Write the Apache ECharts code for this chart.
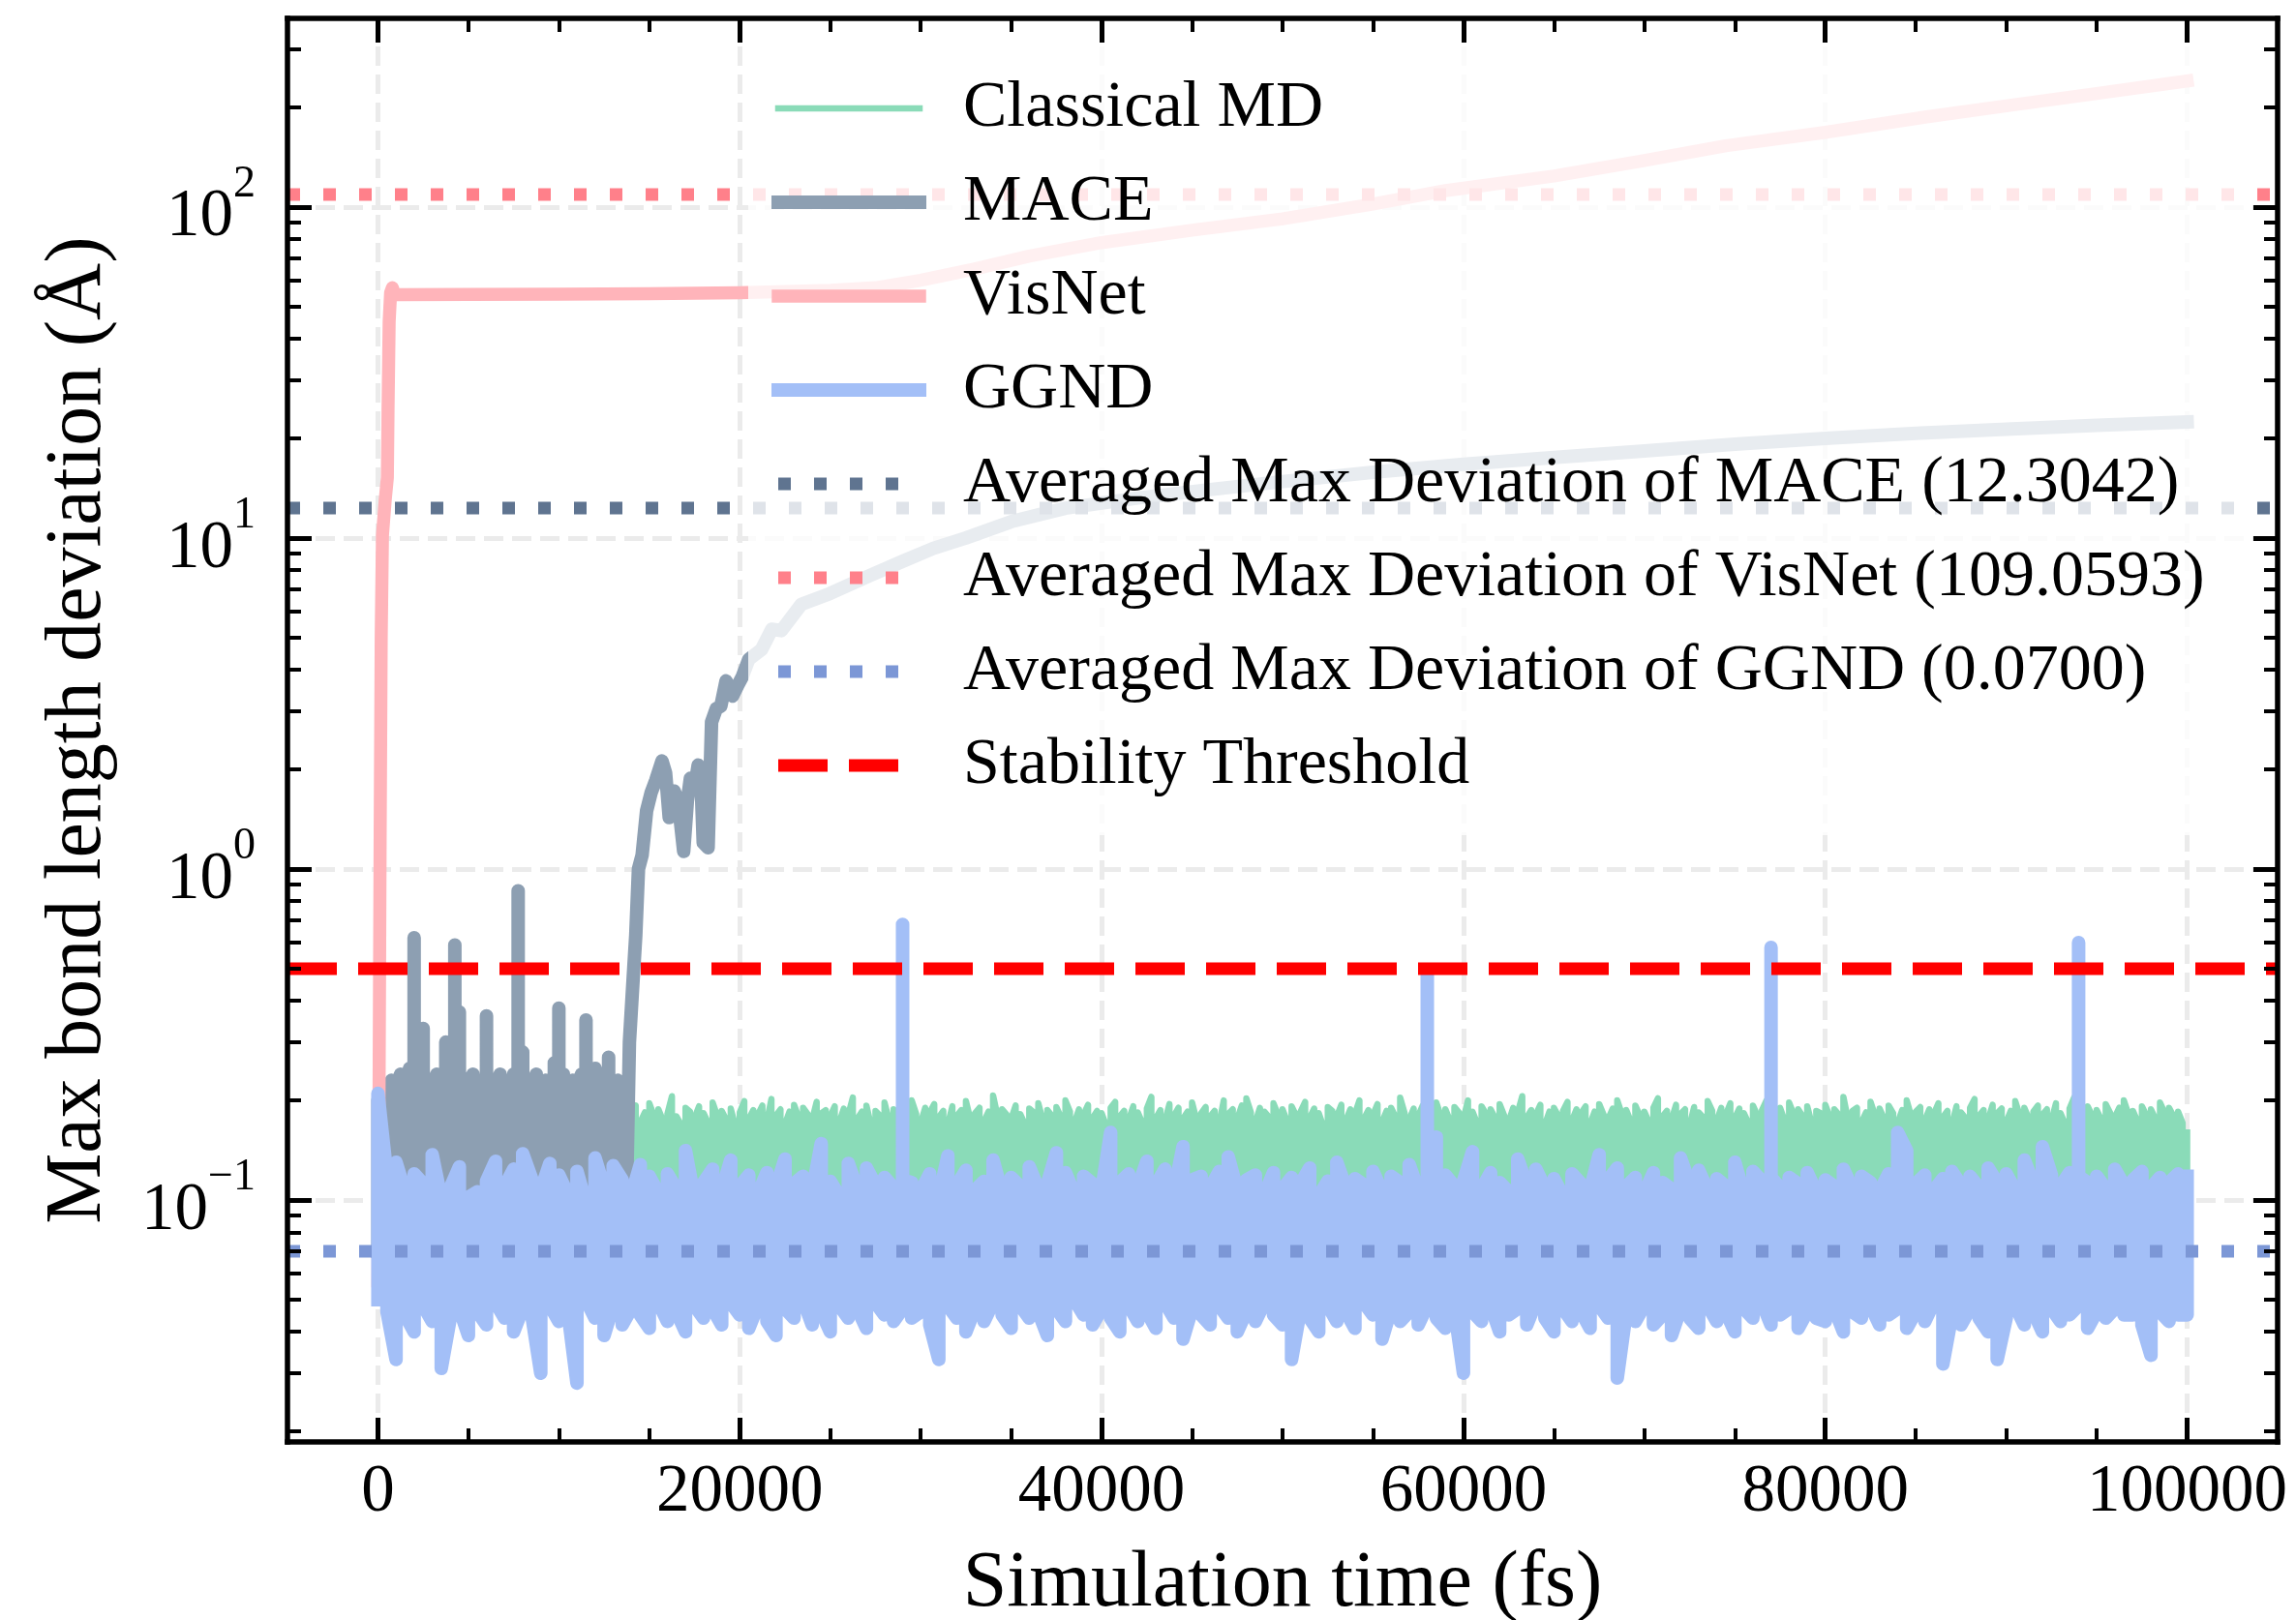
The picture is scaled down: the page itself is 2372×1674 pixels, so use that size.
<!DOCTYPE html>
<html>
<head>
<meta charset="utf-8">
<title>Max bond length deviation</title>
<script src="https://cdn.jsdelivr.net/npm/echarts@6.0.0/dist/echarts.min.js"></script>
<style>
  html, body { margin: 0; padding: 0; background: #fff; }
  #chart { width: 2372px; height: 1674px; }
</style>
</head>
<body>
<div id="chart"></div>
<script>
const FONT = 'Liberation Serif, Times New Roman, serif';

const xMin = -5000, xMax = 105000;
const yMin = 0.0186, yMax = 371;
const xMajorTicks = [0, 20000, 40000, 60000, 80000, 100000];
const xMinorTicks = [5000, 10000, 15000, 25000, 30000, 35000, 45000, 50000, 55000,
  65000, 70000, 75000, 85000, 90000, 95000];
const yMajorTicks = [0.1, 1, 10, 100];
const yMinorTicks = [0.02, 0.03, 0.04, 0.05, 0.06, 0.07, 0.08, 0.09,
  0.2, 0.3, 0.4, 0.5, 0.6, 0.7, 0.8, 0.9,
  2, 3, 4, 5, 6, 7, 8, 9,
  20, 30, 40, 50, 60, 70, 80, 90,
  200, 300];

// the noisy traces are kept as per-bin high / low envelopes plus isolated spikes
// Classical MD, bins of 250 fs
const mdStep = 250;
const mdHigh = [
  0.16,0.19,0.18,0.2,0.17,0.185,0.175,0.19,0.18,0.2,0.172,0.188,0.181,0.195,0.168,0.184,0.19,0.176,0.199,0.183,
  0.178,0.205,0.174,0.186,0.18,0.192,0.171,0.187,0.182,0.196,0.185,0.177,0.19,0.169,0.184,0.203,0.179,0.188,0.175,0.192,
  0.18,0.186,0.173,0.198,0.182,0.167,0.189,0.181,0.194,0.176,0.183,0.191,0.17,0.187,0.2,0.178,0.185,0.193,0.172,0.184,
  0.196,0.18,0.188,0.174,0.182,0.206,0.179,0.169,0.19,0.185,0.177,0.192,0.183,0.171,0.197,0.18,0.186,0.175,0.189,0.168,
  0.184,0.199,0.176,0.187,0.181,0.193,0.173,0.202,0.18,0.188,0.17,0.185,0.194,0.178,0.19,0.182,0.175,0.198,0.183,0.187,
  0.179,0.192,0.172,0.189,0.181,0.204,0.176,0.185,0.193,0.168,0.186,0.18,0.197,0.174,0.188,0.183,0.191,0.177,0.2,0.182,
  0.171,0.19,0.184,0.195,0.178,0.186,0.169,0.192,0.18,0.187,0.199,0.175,0.183,0.19,0.173,0.185,0.207,0.179,0.188,0.181,
  0.176,0.193,0.182,0.17,0.189,0.184,0.196,0.174,0.187,0.18,0.191,0.178,0.2,0.185,0.172,0.188,0.181,0.194,0.177,0.186,
  0.183,0.168,0.19,0.198,0.179,0.186,0.175,0.192,0.184,0.171,0.189,0.205,0.177,0.187,0.173,0.195,0.18,0.19,0.176,0.185,
  0.197,0.174,0.183,0.191,0.179,0.186,0.17,0.2,0.182,0.188,0.176,0.193,0.203,0.184,0.172,0.19,0.185,0.178,0.196,0.181,
  0.188,0.173,0.192,0.18,0.185,0.198,0.177,0.189,0.183,0.167,0.191,0.186,0.179,0.194,0.174,0.188,0.182,0.2,0.176,0.187,
  0.181,0.195,0.172,0.186,0.19,0.178,0.204,0.183,0.175,0.189,0.18,0.193,0.17,0.186,0.197,0.179,0.188,0.174,0.191,0.184,
  0.176,0.2,0.185,0.171,0.192,0.182,0.188,0.177,0.195,0.18,0.173,0.19,0.184,0.206,0.178,0.187,0.181,0.194,0.169,0.185,
  0.19,0.179,0.186,0.198,0.174,0.188,0.183,0.192,0.17,0.185,0.195,0.181,0.176,0.189,0.2,0.182,0.187,0.173,0.193,0.18,
  0.185,0.172,0.19,0.203,0.179,0.186,0.175,0.194,0.182,0.188,0.168,0.191,0.184,0.178,0.199,0.186,0.174,0.19,0.181,0.196,
  0.177,0.189,0.183,0.171,0.193,0.18,0.187,0.2,0.176,0.185,0.19,0.174,0.197,0.182,0.188,0.179,0.192,0.17,0.186,0.183,
  0.194,0.178,0.188,0.181,0.205,0.175,0.186,0.19,0.172,0.184,0.198,0.18,0.189,0.176,0.193,0.183,0.171,0.187,0.2,0.179,
  0.185,0.191,0.174,0.188,0.182,0.196,0.178,0.186,0.169,0.192,0.184,0.177,0.19,0.202,0.18,0.187,0.175,0.194,0.183,0.189,
  0.172,0.186,0.199,0.18,0.19,0.176,0.185,0.193,0.181,0.188,0.174,0.196,0.183,0.17,0.189,0.204,0.178,0.186,0.192,0.18,
  0.187,0.175,0.195,0.183,0.178,0.19,0.2,0.182,0.186,0.173,0.192,0.18,0.188,0.176,0.197,0.184,0.19,0.179,0.185,0.171,
  0.16
];
const mdLow = [
  0.1,0.11,0.098,0.12,0.105,0.1,0.115,0.096,0.108,0.102,0.118,0.099,0.11,0.104,0.097,0.113,0.101,0.107,0.095,0.112,
  0.103,0.098,0.116,0.106,0.1,0.109,0.097,0.114,0.102,0.108,0.095,0.111,0.104,0.099,0.117,0.101,0.106,0.096,0.11,0.103,
  0.107,0.099,0.112,0.101,0.118,0.097,0.105,0.109,0.1,0.114,0.098,0.106,0.102,0.111,0.096,0.108,0.103,0.115,0.1,0.105,
  0.098,0.113,0.101,0.107,0.096,0.11,0.104,0.099,0.116,0.102,0.108,0.097,0.112,0.1,0.106,0.095,0.109,0.103,0.114,0.099,
  0.105,0.1,0.111,0.097,0.108,0.102,0.117,0.099,0.104,0.11,0.096,0.107,0.101,0.113,0.098,0.106,0.103,0.109,0.1,0.115,
  0.097,0.108,0.102,0.112,0.099,0.105,0.096,0.11,0.103,0.107,0.1,0.114,0.098,0.106,0.101,0.109,0.095,0.104,0.111,0.1,
  0.106,0.099,0.113,0.102,0.108,0.097,0.104,0.11,0.1,0.115,0.098,0.107,0.103,0.096,0.111,0.101,0.106,0.099,0.109,0.104,
  0.1,0.112,0.097,0.105,0.101,0.109,0.098,0.114,0.103,0.099,0.107,0.102,0.096,0.111,0.104,0.1,0.108,0.097,0.113,0.102,
  0.108,0.098,0.104,0.11,0.099,0.106,0.102,0.116,0.1,0.105,0.097,0.109,0.103,0.099,0.112,0.101,0.107,0.096,0.11,0.104,
  0.099,0.107,0.101,0.113,0.097,0.104,0.109,0.1,0.106,0.098,0.111,0.103,0.1,0.108,0.095,0.105,0.102,0.114,0.099,0.106,
  0.103,0.096,0.11,0.101,0.107,0.099,0.112,0.104,0.098,0.109,0.102,0.106,0.097,0.113,0.1,0.105,0.108,0.098,0.104,0.11,
  0.1,0.108,0.097,0.106,0.102,0.115,0.099,0.104,0.109,0.096,0.107,0.101,0.111,0.098,0.105,0.103,0.097,0.11,0.1,0.106,
  0.104,0.099,0.112,0.102,0.097,0.108,0.101,0.106,0.098,0.114,0.103,0.1,0.107,0.096,0.11,0.104,0.099,0.105,0.102,0.109,
  0.098,0.106,0.101,0.111,0.099,0.104,0.108,0.097,0.113,0.102,0.1,0.107,0.103,0.096,0.109,0.101,0.105,0.099,0.112,0.103,
  0.107,0.1,0.104,0.098,0.11,0.102,0.106,0.099,0.105,0.113,0.097,0.108,0.101,0.104,0.096,0.111,0.103,0.1,0.107,0.099,
  0.102,0.109,0.097,0.105,0.1,0.112,0.098,0.106,0.103,0.099,0.11,0.101,0.107,0.096,0.104,0.108,0.1,0.113,0.098,0.105,
  0.101,0.106,0.099,0.11,0.103,0.097,0.108,0.102,0.114,0.1,0.105,0.098,0.109,0.104,0.096,0.107,0.101,0.111,0.099,0.106,
  0.104,0.098,0.107,0.101,0.112,0.099,0.105,0.1,0.109,0.097,0.106,0.103,0.099,0.11,0.102,0.096,0.108,0.101,0.113,0.1,
  0.106,0.1,0.103,0.109,0.097,0.105,0.101,0.111,0.099,0.104,0.108,0.096,0.107,0.102,0.1,0.112,0.098,0.105,0.103,0.109,
  0.099,0.107,0.102,0.097,0.11,0.101,0.105,0.099,0.113,0.103,0.1,0.106,0.098,0.109,0.104,0.1,0.107,0.097,0.111,0.102,
  0.1
];

// MACE: noisy start in bins of 250 fs, then the blow-up
const maceStep = 250;
const maceHigh = [
  0.2,0.22,0.21,0.23,0.22,0.24,0.22,0.25,0.23,0.24,0.22,0.23,0.22,0.24,0.22,0.23,0.23,0.22,0.24,0.23,
  0.22,0.24,0.23,0.22,0.23,0.23,0.22,0.24,0.23,0.22,0.24,0.23,0.22,0.23,0.22,0.24,0.22,0.23,0.22,0.23,
  0.22,0.24,0.22,0.23,0.22,0.24,0.23,0.23,0.25,0.22,0.23,0.22,0.22,0.23,0.22,0.21
];
const maceLow = [
  0.07,0.1,0.11,0.098,0.105,0.1,0.112,0.099,0.104,0.1,0.108,0.097,0.11,0.102,0.099,0.106,0.1,0.113,0.098,0.104,
  0.1,0.109,0.097,0.103,0.1,0.111,0.099,0.105,0.1,0.108,0.098,0.104,0.1,0.11,0.097,0.103,0.1,0.107,0.099,0.105,
  0.1,0.112,0.098,0.104,0.1,0.108,0.097,0.103,0.1,0.109,0.099,0.105,0.1,0.106,0.1,0.11
];
const maceSpikeTimes = [2000, 2500, 3750, 4250, 4500, 6000, 7750, 8000, 9750, 10000, 11500, 12750];
const maceSpikeValues = [0.62, 0.33, 0.3, 0.59, 0.37, 0.36, 0.86, 0.28, 0.26, 0.38, 0.35, 0.27];
const maceRiseTimes = [13900, 14100, 14250, 14400, 14600, 14850, 15100, 15350, 15700, 15900,
  16100, 16370, 16600, 16900, 17100, 17270, 17500, 17700, 17850, 17980,
  18250, 18440, 18700, 18950, 19240, 19600, 19900, 20130, 20500, 21200,
  21770, 22300, 23400, 25000, 27200, 29000, 30700, 32500, 35000, 38000,
  42000, 46000, 50000, 55000, 60000, 65000, 70000, 75000, 80000, 85000,
  90000, 95000, 100000];
const maceRiseValues = [0.3, 0.46, 0.63, 1.0, 1.1, 1.5, 1.7, 1.85, 2.12, 1.95,
  1.43, 1.72, 1.6, 1.13, 1.6, 1.88, 1.75, 2.06, 1.9, 1.2,
  1.16, 2.78, 3.05, 3.1, 3.7, 3.33, 3.6, 3.8, 4.3, 4.6,
  5.3, 5.25, 6.3, 6.8, 7.7, 8.5, 9.3, 10.0, 11.2, 12.3,
  13.2, 14.0, 14.8, 15.8, 16.7, 17.5, 18.3, 19.2, 20.0, 20.7,
  21.3, 21.9, 22.4];

const visnetTimes = [0, 60, 120, 180, 250, 400, 520, 560, 620, 700,
  800, 900, 1100, 5000, 10000, 15000, 20000, 25000, 27500, 30000,
  33000, 36000, 40000, 45000, 50000, 55000, 59000, 65000, 70000, 74500,
  80000, 85600, 90000, 95000, 100000];
const visnetValues = [0.057, 0.2, 1.2, 5, 10.2, 13, 15.2, 25, 45, 55,
  57, 54.5, 54.3, 54.4, 54.5, 54.7, 55, 56, 57, 60,
  65, 71, 78, 85, 92, 102, 112, 124, 138, 153,
  168, 187, 202, 220, 240];

// GGND, bins of 500 fs
const ggndStep = 500;
const ggndHigh = [
  0.21,0.118,0.13,0.106,0.12,0.112,0.137,0.101,0.109,0.126,0.102,0.106,0.114,0.131,0.11,0.124,0.138,0.116,0.107,0.129,
  0.119,0.104,0.122,0.098,0.134,0.109,0.127,0.115,0.103,0.128,0.118,0.105,0.12,0.108,0.141,0.101,0.113,0.124,0.107,0.132,
  0.11,0.119,0.104,0.121,0.109,0.133,0.112,0.118,0.106,0.148,0.114,0.103,0.129,0.108,0.125,0.111,0.117,0.109,0.115,0.113,
  0.106,0.12,0.102,0.136,0.111,0.123,0.107,0.114,0.132,0.105,0.117,0.11,0.126,0.108,0.112,0.139,0.121,0.104,0.118,0.112,
  0.107,0.16,0.113,0.12,0.109,0.131,0.111,0.124,0.106,0.145,0.115,0.118,0.109,0.122,0.135,0.107,0.115,0.119,0.104,0.121,
  0.108,0.117,0.112,0.125,0.103,0.114,0.13,0.109,0.116,0.111,0.122,0.106,0.118,0.113,0.128,0.107,0.116,0.155,0.119,0.11,
  0.114,0.14,0.108,0.121,0.113,0.106,0.133,0.111,0.124,0.109,0.116,0.103,0.12,0.112,0.107,0.137,0.115,0.125,0.11,0.117,
  0.105,0.121,0.113,0.108,0.134,0.112,0.123,0.107,0.116,0.11,0.13,0.104,0.122,0.114,0.117,0.109,0.117,0.112,0.121,0.106,
  0.115,0.11,0.124,0.108,0.118,0.113,0.106,0.12,0.16,0.141,0.112,0.119,0.107,0.116,0.122,0.111,0.118,0.109,0.125,0.113,
  0.12,0.107,0.132,0.112,0.145,0.119,0.11,0.121,0.118,0.113,0.118,0.108,0.124,0.111,0.115,0.122,0.109,0.117,0.113,0.12,
  0.118
];
const ggndLow = [
  0.05,0.046,0.033,0.045,0.04,0.048,0.043,0.031,0.044,0.047,0.039,0.046,0.042,0.049,0.044,0.04,0.047,0.045,0.03,0.048,
  0.043,0.046,0.028,0.05,0.044,0.039,0.048,0.042,0.047,0.045,0.041,0.049,0.043,0.046,0.04,0.048,0.044,0.047,0.042,0.049,
  0.045,0.041,0.048,0.043,0.039,0.047,0.044,0.05,0.042,0.046,0.04,0.048,0.044,0.047,0.041,0.049,0.045,0.043,0.047,0.044,
  0.046,0.042,0.033,0.048,0.044,0.04,0.047,0.043,0.049,0.045,0.041,0.048,0.044,0.046,0.039,0.047,0.043,0.05,0.045,0.042,
  0.047,0.044,0.04,0.048,0.043,0.046,0.041,0.049,0.044,0.038,0.047,0.045,0.042,0.048,0.044,0.04,0.046,0.043,0.049,0.045,
  0.042,0.033,0.047,0.044,0.04,0.048,0.043,0.046,0.041,0.049,0.045,0.038,0.047,0.043,0.046,0.042,0.048,0.044,0.041,0.047,
  0.03,0.046,0.043,0.048,0.04,0.045,0.047,0.042,0.049,0.044,0.04,0.047,0.043,0.046,0.041,0.048,0.044,0.029,0.046,0.043,
  0.048,0.042,0.045,0.039,0.047,0.044,0.041,0.048,0.043,0.046,0.04,0.047,0.044,0.049,0.042,0.045,0.047,0.041,0.046,0.044,
  0.043,0.047,0.04,0.046,0.044,0.048,0.042,0.045,0.047,0.041,0.046,0.043,0.049,0.032,0.045,0.042,0.047,0.044,0.04,0.033,
  0.044,0.048,0.042,0.046,0.04,0.047,0.043,0.045,0.048,0.041,0.046,0.044,0.047,0.045,0.045,0.042,0.034,0.046,0.043,0.045,
  0.045
];
const ggndSpikeTimes = [29000, 58000, 77000, 94000];
const ggndSpikeValues = [0.68, 0.48, 0.58, 0.6];

const avgMace = 12.3042;
const avgVisnet = 109.0593;
const avgGgnd = 0.07;
const stabilityThreshold = 0.5;

const DOTTED = [13, 24];
const DASHED = [51, 22];
const GRID_COLOR = '#ebebeb';

// walk each bin down and up so the thick stroke fills the band;
// a spike is drawn as a vertical excursion inside its bin
function envelopePath(step, high, low, spikeTimes, spikeValues) {
  const pts = [];
  high.forEach((h, i) => {
    const t = i * step;
    const k = spikeTimes.indexOf(t);
    const first = i % 2 === 0 ? [t, low[i]] : [t, h];
    const last = i % 2 === 0 ? [t, h] : [t, low[i]];
    pts.push(first);
    if (k >= 0) pts.push([t, spikeValues[k]]);
    pts.push(last);
  });
  return pts;
}

const mdData = envelopePath(mdStep, mdHigh, mdLow, [], []);
const maceData = envelopePath(maceStep, maceHigh, maceLow, maceSpikeTimes, maceSpikeValues)
  .concat(maceRiseTimes.map((t, i) => [t, maceRiseValues[i]]));
const visnetData = visnetTimes.map((t, i) => [t, visnetValues[i]]);
const ggndData = envelopePath(ggndStep, ggndHigh, ggndLow, ggndSpikeTimes, ggndSpikeValues);
const hline = v => [[xMin, v], [xMax, v]];

const seriesDefs = [
  { name: 'Classical MD', data: mdData, color: '#8adbb8', width: 6.5, type: 'solid' },
  { name: 'MACE', data: maceData, color: '#8d9fb2', width: 14, type: 'solid' },
  { name: 'VisNet', data: visnetData, color: '#ffb4ba', width: 13.5, type: 'solid' },
  { name: 'GGND', data: ggndData, color: '#a3bff7', width: 14, type: 'solid' },
  { name: 'Averaged Max Deviation of MACE (' + avgMace.toFixed(4) + ')', data: hline(avgMace), color: '#5f7490', width: 13, type: DOTTED },
  { name: 'Averaged Max Deviation of VisNet (' + avgVisnet.toFixed(4) + ')', data: hline(avgVisnet), color: '#ff808a', width: 13, type: DOTTED },
  { name: 'Averaged Max Deviation of GGND (' + avgGgnd.toFixed(4) + ')', data: hline(avgGgnd), color: '#7c97d6', width: 13, type: DOTTED },
  { name: 'Stability Threshold', data: hline(stabilityThreshold), color: '#ff0000', width: 13, type: DASHED }
];

const yLo = Math.log10(yMin), yHi = Math.log10(yMax);
const yMajorLog = yMajorTicks.map(Math.log10);
const yMinorLog = yMinorTicks.map(Math.log10);

// axes that only draw the black frame and the inward ticks
function frameAxis(position, ticks, length, width, withLine, range) {
  return {
    type: 'value',
    position,
    min: range[0],
    max: range[1],
    z: 10,
    axisLine: { show: withLine, onZero: false, lineStyle: { color: '#000', width: 5.5, cap: 'square' } },
    axisTick: { show: true, inside: true, length, customValues: ticks, lineStyle: { color: '#000', width } },
    axisLabel: { show: false },
    splitLine: { show: false }
  };
}

const xRange = [xMin, xMax];
const yRange = [yLo, yHi];

const option = {
  animation: false,
  backgroundColor: '#fff',
  textStyle: { fontFamily: FONT },
  grid: { left: 297, right: 19, top: 19, bottom: 184, containLabel: false, outerBoundsMode: 'none' },
  legend: {
    orient: 'vertical',
    left: 773,
    top: 40,
    selectedMode: false,
    backgroundColor: 'rgba(255,255,255,0.8)',
    padding: [38, 49, 38, 24],
    itemWidth: 146,
    itemHeight: 14,
    itemGap: 29,
    itemStyle: { opacity: 0 },
    textStyle: { fontSize: 68, lineHeight: 68, color: '#000', fontFamily: FONT, padding: [0, 0, 0, 40] },
    data: seriesDefs.map(s => ({
      name: s.name,
      itemStyle: { opacity: 0 },
      lineStyle: { width: s.width, type: s.type, color: s.color }
    }))
  },
  xAxis: [
    {
      type: 'value', position: 'bottom', min: xMin, max: xMax, z: 0,
      axisLine: { show: false, onZero: false },
      axisTick: { show: false, customValues: xMajorTicks },
      axisLabel: {
        customValues: xMajorTicks, margin: 18, fontSize: 69, color: '#000', fontFamily: FONT,
        formatter: v => String(v)
      },
      splitLine: { show: true, lineStyle: { color: GRID_COLOR, width: 5, type: [20, 9] } },
      name: 'Simulation time (fs)',
      nameLocation: 'middle',
      nameGap: 106,
      nameMoveOverlap: false,
      nameTextStyle: { fontSize: 82, color: '#000', fontFamily: FONT }
    },
    frameAxis('bottom', xMajorTicks, 25, 5, true, xRange),
    frameAxis('bottom', xMinorTicks, 14, 4, false, xRange),
    frameAxis('top', xMajorTicks, 25, 5, true, xRange),
    frameAxis('top', xMinorTicks, 14, 4, false, xRange)
  ],
  yAxis: [
    { type: 'log', logBase: 10, min: yMin, max: yMax, show: false },
    {
      type: 'value', position: 'left', min: yLo, max: yHi, z: 0,
      axisLine: { show: false, onZero: false },
      axisTick: { show: false, customValues: yMajorLog },
      axisLabel: {
        customValues: yMajorLog,
        margin: 33,
        formatter: v => '{b|10}{s|' + String(Math.round(v)).replace('-', '\u2212') + '}',
        rich: {
          b: { fontSize: 69, fontFamily: FONT, color: '#000', lineHeight: 92, verticalAlign: 'bottom' },
          s: { fontSize: 46, fontFamily: FONT, color: '#000', lineHeight: 46, verticalAlign: 'top' }
        }
      },
      splitLine: { show: true, lineStyle: { color: GRID_COLOR, width: 5, type: [20, 9] } },
      name: 'Max bond length deviation (\u00c5)',
      nameLocation: 'middle',
      nameGap: 175,
      nameMoveOverlap: false,
      nameTextStyle: { fontSize: 82, color: '#000', fontFamily: FONT }
    },
    frameAxis('left', yMajorLog, 25, 5, true, yRange),
    frameAxis('left', yMinorLog, 14, 4, false, yRange),
    frameAxis('right', yMajorLog, 25, 5, true, yRange),
    frameAxis('right', yMinorLog, 14, 4, false, yRange)
  ],
  series: seriesDefs.map(s => ({
    name: s.name,
    type: 'line',
    xAxisIndex: 0,
    yAxisIndex: 0,
    data: s.data,
    showSymbol: false,
    symbol: 'none',
    silent: true,
    color: s.color,
    lineStyle: {
      color: s.color,
      width: s.width,
      type: s.type,
      cap: s.type === 'solid' ? 'square' : 'butt',
      join: 'round'
    }
  }))
};

const chart = echarts.init(document.getElementById('chart'));
chart.setOption(option);
</script>
</body>
</html>
